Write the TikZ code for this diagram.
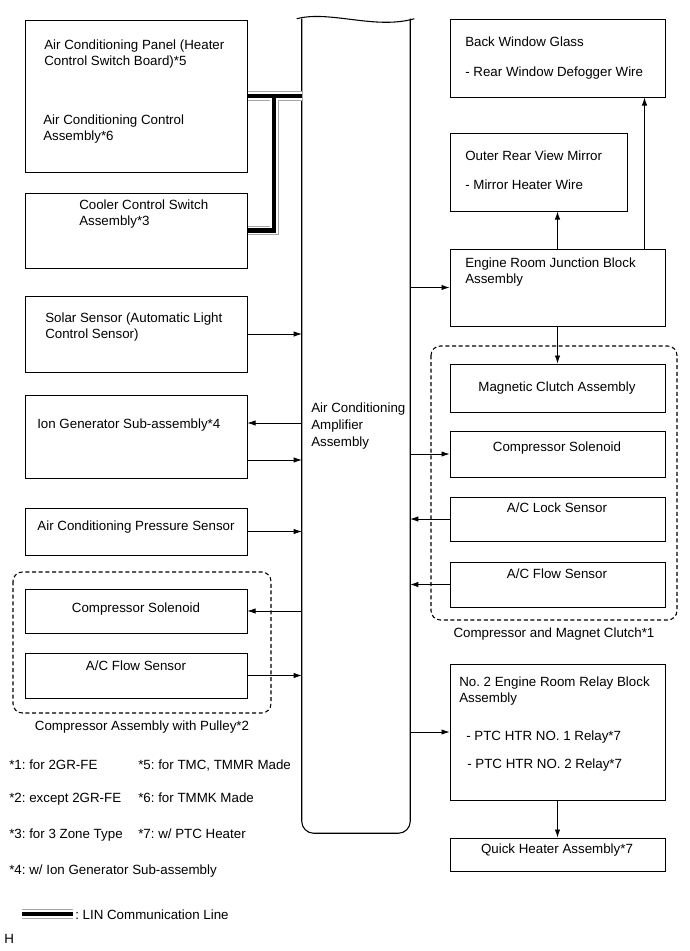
\documentclass[tikz,border=0pt]{standalone}
\usepackage{fontspec}
\setmainfont{Liberation Sans}
\frenchspacing
\usetikzlibrary{arrows.meta,calc}
\tikzset{
  box/.style={draw, line width=0.75pt, inner sep=0pt},
  sz/.style 2 args={minimum width=#1*0.75pt, minimum height=#2*0.75pt},
  txt/.style={anchor=base west, inner sep=0pt, align=left, font=\fontsize{10}{12.5}\selectfont},
  ctxt/.style={txt, anchor=base, align=center},
  arr/.style={-{Latex[length=6pt,width=4pt]}, line width=0.5pt},
  grp/.style={draw, dash pattern=on 3pt off 2pt, rounded corners=7pt, line width=0.8pt},
  lin/.style={draw=black, line width=3.3pt,
    preaction={draw=white, line width=5.6pt,
      preaction={draw=gray!70, line width=6.8pt}}}
}

\begin{document}
\begin{tikzpicture}[x=0.75pt, y=-0.75pt]
  \useasboundingbox (0,0) rectangle (690,951);

  % Amplifier (centre column)
  \node[sz={108}{814}, inner sep=0pt] (amp) at (356,426) {};
  \draw[line width=0.8pt, rounded corners=9pt] (amp.north west) -- (amp.south west) -- (amp.south east) -- (amp.north east);
  \draw[line width=0.8pt] ($(amp.north west)+(-5,0)$) .. controls (330,10) and (375,30) .. ($(amp.north east)+(4,0)$);
  \node[txt] (ampT) at (311,446) {Air Conditioning\\Amplifier\\Assembly};

  % Left column
  \node[box, sz={222}{152}] (panel) at (136,96) {};
  \node[txt] (panelT) at (44,65.7) {Air Conditioning Panel (Heater\\Control Switch Board)*5};
  \node[txt] (panelB) at (43,140.7) {Air Conditioning Control\\Assembly*6};
  \node[box, sz={222}{75}] (cooler) at (136,230.5) {};
  \node[txt] (coolerT) at (79,225.7) {Cooler Control Switch\\Assembly*3};
  \node[box, sz={222}{76}] (solar) at (136,334) {};
  \node[txt] (solarT) at (45,338.7) {Solar Sensor (Automatic Light\\Control Sensor)};
  \node[box, sz={222}{83}] (ion) at (136,436.5) {};
  \node[txt] (ionT) at (37,428) {Ion Generator Sub-assembly*4};
  \node[box, sz={222}{47}] (press) at (136,531.5) {};
  \node[ctxt] (pressT) at (136,530) {Air Conditioning Pressure Sensor};

  \draw[grp] (13,572) rectangle (271,713);
  \node[box, sz={222}{44}] (csolL) at (136,611) {};
  \node[ctxt] (csolLT) at (136,612) {Compressor Solenoid};
  \node[box, sz={222}{45}] (flowL) at (136,675.5) {};
  \node[ctxt] (flowLT) at (136,670) {A/C Flow Sensor};
  \node[ctxt] (grpL) at (142,730) {Compressor Assembly with Pulley*2};

  % Right column
  \node[box, sz={215}{78}] (back) at (557.5,58) {};
  \node[txt] (backT) at (465,46) {Back Window Glass};
  \node[txt] (backB) at (465,76) {- Rear Window Defogger Wire};
  \node[box, sz={177}{78}] (mirror) at (538.5,172) {};
  \node[txt] (mirrorT) at (465,160) {Outer Rear View Mirror};
  \node[txt] (mirrorB) at (465,189) {- Mirror Heater Wire};
  \node[box, sz={215}{77}] (erjb) at (557.5,287.5) {};
  \node[txt] (erjbT) at (465,283.7) {Engine Room Junction Block\\Assembly};

  \draw[grp] (431,346) rectangle (677,620);
  \node[box, sz={215}{48}] (clutch) at (557.5,388) {};
  \node[ctxt] (clutchT) at (557,391) {Magnetic Clutch Assembly};
  \node[box, sz={215}{46}] (csolR) at (557.5,454) {};
  \node[ctxt] (csolRT) at (557,451) {Compressor Solenoid};
  \node[box, sz={215}{44}] (lock) at (557.5,519) {};
  \node[ctxt] (lockT) at (557,512) {A/C Lock Sensor};
  \node[box, sz={215}{45}] (flowR) at (557.5,584.5) {};
  \node[ctxt] (flowRT) at (557,578) {A/C Flow Sensor};
  \node[ctxt] (grpR) at (554,637) {Compressor and Magnet Clutch*1};

  \node[box, sz={215}{136}] (relay) at (557.5,732) {};
  \node[txt] (relayT) at (459,702.7) {No. 2 Engine Room Relay Block\\Assembly};
  \node[txt] (relay1) at (466,740) {- PTC HTR NO. 1 Relay*7};
  \node[txt] (relay2) at (467,768) {- PTC HTR NO. 2 Relay*7};
  \node[box, sz={215}{33}] (quick) at (557.5,854.5) {};
  \node[ctxt] (quickT) at (557,853) {Quick Heater Assembly*7};

  % LIN bus
  \coordinate (j) at ($(panel.east)!0.49!(amp.west |- panel.east)$);
  \draw[lin] (panel.east) -- (amp.west |- panel.east) (j) |- (cooler.east);

  % signal lines
  \coordinate (ionin) at ($(ion.east)+(0,-13.5)$);
  \coordinate (ionout) at ($(ion.east)+(0,23.5)$);
  \coordinate (bw) at ($(erjb.north east)+(-21,0)$);
  \draw[arr] (solar.east) -- (solar.east -| amp.west);
  \draw[arr] (ionin -| amp.west) -- (ionin);
  \draw[arr] (ionout) -- (ionout -| amp.west);
  \draw[arr] (press.east) -- (press.east -| amp.west);
  \draw[arr] (csolL.east -| amp.west) -- (csolL.east);
  \draw[arr] (flowL.east) -- (flowL.east -| amp.west);
  \draw[arr] (amp.east |- erjb.west) -- (erjb.west);
  \draw[arr] (amp.east |- csolR.west) -- (csolR.west);
  \draw[arr] (lock.west) -- (lock.west -| amp.east);
  \draw[arr] (flowR.west) -- (flowR.west -| amp.east);
  \draw[arr] (amp.east |- relay.west) -- (relay.west);
  \draw[arr] (erjb.north) -- (erjb.north |- mirror.south);
  \draw[arr] (bw) -- (bw |- back.south);
  \draw[arr] (erjb.south) -- (clutch.north);
  \draw[arr] (relay.south) -- (quick.north);

  % footnotes
  \node[txt] (n1) at (9,769) {*1: for 2GR-FE};
  \node[txt] (n2) at (9,802) {*2: except 2GR-FE};
  \node[txt] (n3) at (9,838) {*3: for 3 Zone Type};
  \node[txt] (n4) at (9,874) {*4: w/ Ion Generator Sub-assembly};
  \node[txt] (n5) at (138,769) {*5: for TMC, TMMR Made};
  \node[txt] (n6) at (138,802) {*6: for TMMK Made};
  \node[txt] (n7) at (138,838) {*7: w/ PTC Heater};

  % legend
  \coordinate (lgA) at (22,914);
  \coordinate (lgB) at (73,914);
  \draw[lin] (lgA) -- (lgB);
  \node[txt] (lgT) at (75,919) {: LIN Communication Line};
  \node[txt] (hT) at (4,943) {H};
\end{tikzpicture}
\end{document}
